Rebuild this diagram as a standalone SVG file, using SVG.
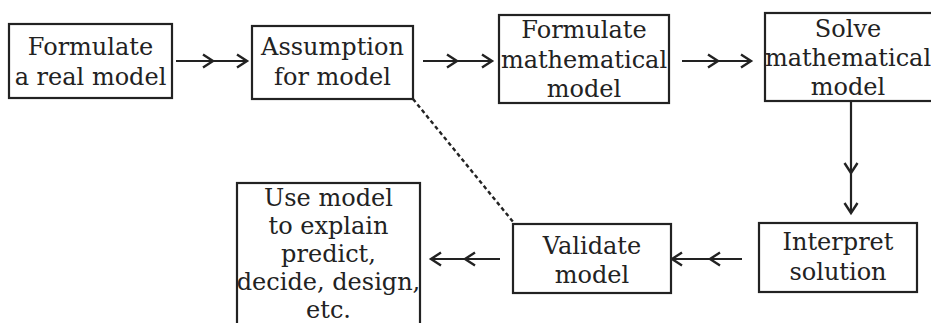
<svg xmlns="http://www.w3.org/2000/svg" width="931" height="323" viewBox="0 0 931 323">
<style>
.box{fill:#fff;stroke:#222;stroke-width:2.2}
.t{font-family:"DejaVu Serif","Liberation Serif",serif;font-size:24px;fill:#222;text-anchor:middle}
.c{fill:none;stroke:#222;stroke-width:2.2}
.d{fill:none;stroke:#222;stroke-width:2.4;stroke-dasharray:4 3}
</style>
<defs>
<marker id="h" markerWidth="14" markerHeight="16" refX="11" refY="8" orient="auto" markerUnits="userSpaceOnUse">
<path d="M1,1.5 L11,8 L1,14.5" fill="none" stroke="#222" stroke-width="2.4"/>
</marker>
</defs>
<rect width="931" height="323" fill="#fff"/>
<g id="connectors">
<polyline class="c" points="176,61 213,61 247,61" marker-mid="url(#h)" marker-end="url(#h)"/>
<polyline class="c" points="423,61 457,61 492,61" marker-mid="url(#h)" marker-end="url(#h)"/>
<polyline class="c" points="682,61 718,61 751,61" marker-mid="url(#h)" marker-end="url(#h)"/>
<polyline class="c" points="851,101 851,173 851,213" marker-mid="url(#h)" marker-end="url(#h)"/>
<polyline class="c" points="742,259 710,259 672,259" marker-mid="url(#h)" marker-end="url(#h)"/>
<polyline class="c" points="500,259 465,259 431,259" marker-mid="url(#h)" marker-end="url(#h)"/>
<line class="d" x1="413" y1="99" x2="514" y2="223"/>
</g>
<g id="n1"><rect class="box" x="9" y="24" width="163" height="74"/>
<text class="t" x="90.5" y="55">Formulate</text><text class="t" x="90.5" y="85">a real model</text></g>
<g id="n2"><rect class="box" x="252" y="26" width="161" height="73"/>
<text class="t" x="332.5" y="55">Assumption</text><text class="t" x="332.5" y="85">for model</text></g>
<g id="n3"><rect class="box" x="499" y="15" width="170" height="88"/>
<text class="t" x="584" y="38">Formulate</text><text class="t" x="584" y="68">mathematical</text><text class="t" x="584" y="97">model</text></g>
<g id="n4"><rect class="box" x="765" y="13" width="175" height="88"/>
<text class="t" x="848" y="37">Solve</text><text class="t" x="848" y="66">mathematical</text><text class="t" x="848" y="95">model</text></g>
<g id="n5"><rect class="box" x="759" y="223" width="158" height="69"/>
<text class="t" x="838" y="250">Interpret</text><text class="t" x="838" y="280">solution</text></g>
<g id="n6"><rect class="box" x="513" y="224" width="158" height="69"/>
<text class="t" x="592" y="254">Validate</text><text class="t" x="592" y="283">model</text></g>
<g id="n7"><rect class="box" x="237" y="183" width="183" height="150"/>
<text class="t" x="328.5" y="206">Use model</text><text class="t" x="328.5" y="234">to explain</text><text class="t" x="328.5" y="262">predict,</text><text class="t" x="328.5" y="290">decide, design,</text><text class="t" x="328.5" y="318">etc.</text></g>
</svg>
